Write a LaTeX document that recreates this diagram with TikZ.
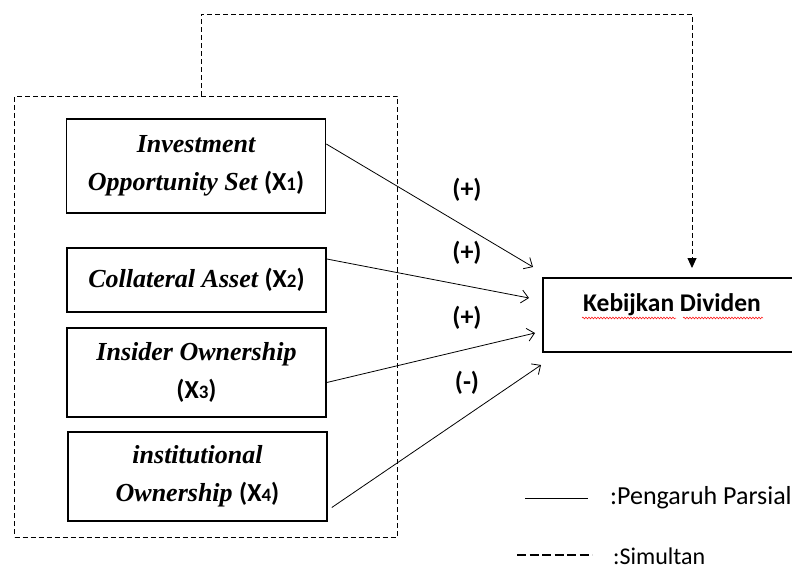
\documentclass[tikz,border=0pt]{standalone}
\usepackage{fontspec}
\setmainfont{Liberation Serif}
\setsansfont{Carlito}
\usetikzlibrary{arrows.meta,decorations.pathmorphing}
\newcommand{\xv}[1]{{\normalfont\sffamily\bfseries (X{\fontsize{19}{19}\selectfont #1})}}

\begin{document}
\begin{tikzpicture}[x=1pt, y=-1pt,
		var/.style={draw, line width=1.6pt, minimum width=259pt, align=center, inner sep=0pt,
			font=\fontsize{26}{38}\selectfont\rmfamily\bfseries\itshape},
		partial/.style={line width=0.8pt, -{Straight Barb[length=7pt,width=13pt]}},
		simul/.style={line width=0.9pt, dash pattern=on 5pt off 3pt},
		sign/.style={font=\fontsize{26}{26}\selectfont\sffamily\bfseries}]
			\useasboundingbox (0,0) rectangle (792,572);
			% independent variables
			\node[var, minimum height=94pt] (x1) at (196,166) {Investment\\Opportunity Set \xv{1}};
			\node[var, minimum height=64pt] (x2) at (196.5,280) {Collateral Asset \xv{2}};
			\node[var, minimum height=89pt] (x3) at (196.5,372.5) {Insider Ownership\\\xv{3}};
			\node[var, minimum height=89pt] (x4) at (197.5,476.5) {institutional\\Ownership \xv{4}};
			% dependent variable
			\node[draw, line width=1.6pt, minimum width=258pt, minimum height=74pt, inner sep=0pt] (dv) at (672,315) {};
			\node[font=\fontsize{25.5}{25.5}\selectfont\sffamily\bfseries] (dvt) at (672,305) {Kebijkan Dividen};
			\draw[red, line width=0.5pt, decorate, decoration={snake, amplitude=0.9pt, segment length=3pt}] (582,318) -- (676,318);
			\draw[red, line width=0.5pt, decorate, decoration={snake, amplitude=0.9pt, segment length=3pt}] (683,318) -- (763,318);
			
			% group box and simultaneous path
			\node[draw, simul, minimum width=383pt, minimum height=441pt, inner sep=0pt] (grp) at (206,316.5) {};
			\coordinate (top) at (201,96);
			\coordinate (c1) at (201,14);
			\coordinate (c2) at (692,14);
			\coordinate (s) at (692,268);
			\draw[simul, -{Triangle[length=10pt,width=9pt]}] (top) -- (c1) -- (c2) -- (s);
			
			% partial paths
			\coordinate (a1) at (533,267);
			\coordinate (a2) at (529,298);
			\coordinate (a3) at (535,333);
			\coordinate (a4) at (541,365);
			\draw[partial] ([yshift=22pt]x1.east) -- (a1);
			\draw[partial] ([yshift=21pt]x2.east) -- (a2);
			\draw[partial] ([yshift=-10pt]x3.east) -- (a3);
			\draw[partial] ([xshift=4pt,yshift=-31pt]x4.east) -- (a4);
			\node[sign] (p1) at (467,190) {(+)};
			\node[sign] (p2) at (467,253) {(+)};
			\node[sign] (p3) at (467,318) {(+)};
			\node[sign] (p4) at (467,383) {(-)};
			
			% legend
			\coordinate (l1) at (525,498);
			\coordinate (l2) at (588,498);
			\coordinate (l3) at (517,555);
			\coordinate (l4) at (592,555);
			\draw[line width=0.8pt] (l1) -- (l2);
			\draw[line width=2pt, dash pattern=on 9pt off 3.5pt] (l3) -- (l4);
			\node[anchor=west, inner sep=1pt, font=\fontsize{26}{26}\selectfont\sffamily] (lp) at (609,498) {:Pengaruh Parsial};
			\node[anchor=west, inner sep=0pt, font=\fontsize{24}{24}\selectfont\sffamily] (ls) at (613,556) {:Simultan};
		\end{tikzpicture}
\end{document}
